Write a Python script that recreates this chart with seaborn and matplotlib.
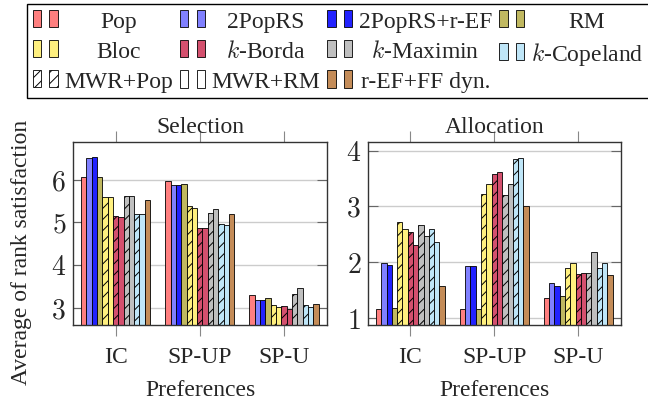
import numpy as np
import pandas as pd
import matplotlib
matplotlib.use("Agg")
import matplotlib.pyplot as plt
import seaborn as sns
from matplotlib.patches import Patch
from matplotlib.legend_handler import HandlerTuple
from matplotlib.ticker import FuncFormatter
from matplotlib.transforms import Affine2D

# data
prefs = ["IC", "SP-UP", "SP-U"]
methods = ["Pop", "2PopRS", "2PopRS+r-EF", "RM",
           "Bloc MWR+Pop", "Bloc MWR+RM",
           "k-Borda MWR+Pop", "k-Borda MWR+RM",
           "k-Maximin MWR+Pop", "k-Maximin MWR+RM",
           "k-Copeland MWR+Pop", "k-Copeland MWR+RM",
           "r-EF+FF dyn."]

sel_ic = [6.06, 6.52, 6.53, 6.06, 5.59, 5.59, 5.14, 5.12, 5.63, 5.62, 5.20, 5.19, 5.53]
sel_spup = [5.97, 5.87, 5.87, 5.91, 5.38, 5.33, 4.88, 4.88, 5.23, 5.31, 4.96, 4.95, 5.20]
sel_spu = [3.30, 3.18, 3.18, 3.23, 3.05, 3.02, 3.04, 2.97, 3.33, 3.47, 3.05, 3.02, 3.09]

alloc_ic = [1.17, 1.98, 1.95, 1.18, 2.73, 2.59, 2.55, 2.31, 2.67, 2.47, 2.60, 2.37, 1.58]
alloc_spup = [1.16, 1.93, 1.93, 1.17, 3.22, 3.40, 3.58, 3.61, 3.20, 3.40, 3.85, 3.87, 3.00]
alloc_spu = [1.35, 1.62, 1.58, 1.40, 1.89, 1.99, 1.79, 1.80, 1.81, 2.19, 1.89, 1.99, 1.77]

# legend rows as in the reference (read left to right)
legend_rows = [["Pop", "2PopRS", "2PopRS+r-EF", "RM"],
               ["Bloc", "$k$-Borda", "$k$-Maximin", "$k$-Copeland"],
               ["MWR+Pop", "MWR+RM", "r-EF+FF dyn."]]

# colours
c_pop = "#ff7f7f"
c_2pop = "#8080ff"
c_2popref = "#2222ff"
c_rm = "#c0b860"
c_bloc = "#fff07f"
c_borda = "#d4506e"
c_max = "#bfbfbf"
c_cop = "#bfe6f8"
c_ref = "#c48c58"
bar_colors = [c_pop, c_2pop, c_2popref, c_rm, c_bloc, c_bloc, c_borda, c_borda,
              c_max, c_max, c_cop, c_cop, c_ref]
hatched = [4, 6, 8, 10]

sns.set_style("white")
plt.rcParams["font.family"] = ["Liberation Serif", "DejaVu Serif"]
plt.rcParams["mathtext.fontset"] = "cm"
plt.rcParams["hatch.color"] = "black"
plt.rcParams["hatch.linewidth"] = 0.7

FS = 17

fig = plt.figure(figsize=(6.48, 4.10), dpi=100)
ax1 = fig.add_axes([73 / 648, 1 - 326 / 410, 254 / 648, 183 / 410])
ax2 = fig.add_axes([368 / 648, 1 - 326 / 410, 253 / 648, 183 / 410])


def make_df(a, b, c):
    rows = []
    for p, vals in zip(prefs, [a, b, c]):
        for m, v in zip(methods, vals):
            rows.append({"pref": p, "method": m, "value": v})
    return pd.DataFrame(rows)


panels = [
    (ax1, make_df(sel_ic, sel_spup, sel_spu), "Selection", (2.59, 6.89), [3, 4, 5, 6]),
    (ax2, make_df(alloc_ic, alloc_spup, alloc_spu), "Allocation", (0.875, 4.155), [1, 2, 3, 4]),
]

for ax, df, title, ylim, yt in panels:
    sns.barplot(data=df, x="pref", y="value", hue="method", hue_order=methods,
                palette=bar_colors, saturation=1, width=0.82, edgecolor="black",
                linewidth=0.6, ax=ax, legend=False, errorbar=None)
    for i in hatched:
        for bar in ax.containers[i]:
            bar.set_hatch("///")
    ax.set_xlim(-0.505, 2.51)
    ax.set_ylim(*ylim)
    ax.set_yticks(yt)
    ax.yaxis.set_major_formatter(FuncFormatter(lambda v, p: f"${v:.0f}$"))
    ax.set_axisbelow(True)
    ax.yaxis.grid(True, color="#cccccc", lw=1)
    ax.xaxis.grid(False)
    for s in ax.spines.values():
        s.set_color("#333333")
        s.set_linewidth(1)
    ax.tick_params(axis="x", direction="out", top=True, bottom=True, length=8,
                   width=0.8, color="#888888", labelsize=FS, pad=7)
    ax.tick_params(axis="y", direction="in", left=True, right=True, length=7.5,
                   width=0.8, color="#666666", labelsize=FS + 3, pad=5)
    ax.set_title(title, fontsize=FS, pad=7)
    ax.set_xlabel("Preferences", fontsize=FS, labelpad=9)
    ax.set_ylabel("")

fig.text(22 / 648, 1 - 252 / 410, "Average of rank satisfaction", rotation=90,
         ha="center", va="center", fontsize=FS)

# legend with two small bars per entry
def pair(fc, hatch=None):
    return (Patch(facecolor=fc, edgecolor="black", lw=0.6, hatch=hatch),
            Patch(facecolor=fc, edgecolor="black", lw=0.6, hatch=hatch))

handle_rows = [[pair(c_pop), pair(c_2pop), pair(c_2popref), pair(c_rm)],
               [pair(c_bloc), pair(c_borda), pair(c_max), pair(c_cop)],
               [pair("white", "///"), pair("white"), pair(c_ref)]]

# matplotlib fills legend columns first, so reorder to read row by row
handles, labels, cols = [], [], []
for col in range(4):
    for r in range(3):
        if col < len(legend_rows[r]):
            handles.append(handle_rows[r][col])
            labels.append(legend_rows[r][col])
            cols.append(col)

leg = fig.legend(handles, labels, ncol=4, loc="upper left",
                 bbox_to_anchor=(27 / 648, 1 - 5 / 410), borderaxespad=0, fontsize=FS,
                 handler_map={tuple: HandlerTuple(ndivide=None, pad=0.35)},
                 handlelength=1.05, handleheight=0.75, handletextpad=0.28,
                 labelspacing=0.35, borderpad=0.25, columnspacing=0.3,
                 frameon=True, fancybox=False, edgecolor="black", framealpha=1)
leg.get_frame().set_linewidth(1)

# centre the legend texts inside their column, as pgfplots does
renderer = fig.canvas.get_renderer()
texts = leg.get_texts()
widths = [t.get_window_extent(renderer).width for t in texts]
col_w = {c: max(w for w, cc in zip(widths, cols) if cc == c) for c in set(cols)}
for t, w, c in zip(texts, widths, cols):
    dx = (col_w[c] - w) / 2
    t.set_transform(t.get_transform() + Affine2D().translate(dx, 0))

fig.savefig("out.png", dpi=100)
